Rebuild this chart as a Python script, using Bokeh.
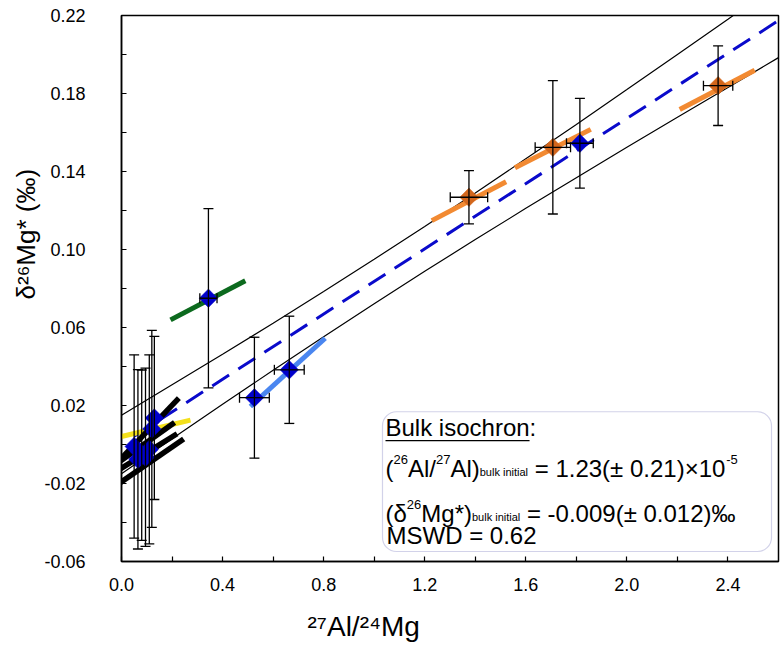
import math
from bokeh.plotting import figure
from bokeh.models import (Range1d, FixedTicker, Whisker, TeeHead, ColumnDataSource,
                          Label, BoxAnnotation, PrintfTickFormatter, Title)
from bokeh.embed import file_html
from bokeh.resources import INLINE

# ---------------- data ----------------
cluster_x = [0.050, 0.065, 0.080, 0.095, 0.110, 0.120, 0.130]
cluster_y = [-0.0010, -0.0076, -0.0055, -0.0065, -0.0025, 0.0080, 0.0136]
cluster_yerr = [0.0470, 0.0460, 0.0437, 0.0457, 0.0485, 0.0505, 0.0418]

blue_x = [0.344, 0.526, 0.664, 1.814]
blue_y = [0.0750, 0.0240, 0.0383, 0.1545]
blue_yerr = [0.0460, 0.0310, 0.0275, 0.0230]
blue_xerr = [0.034, 0.059, 0.059, 0.053]

orange_x = [1.375, 1.707, 2.361]
orange_y = [0.1268, 0.1524, 0.1840]
orange_yerr = [0.0137, 0.0342, 0.0204]
orange_xerr = [0.074, 0.070, 0.058]

# internal isochron segments (x0, y0, x1, y1)
black_x0 = [0.000, -0.010, -0.010, -0.010]
black_y0 = [-0.0070, -0.0090, -0.0130, -0.0200]
black_x1 = [0.227, 0.210, 0.220, 0.246]
black_y1 = [0.0238, 0.0113, 0.0055, 0.0028]

yellow_x0, yellow_y0, yellow_x1, yellow_y1 = [-0.020], [0.0035], [0.273], [0.0125]
green_x0, green_y0, green_x1, green_y1 = [0.194], [0.0639], [0.490], [0.0840]
lblue_x0, lblue_y0, lblue_x1, lblue_y1 = [0.510], [0.0195], [0.806], [0.0545]
orseg_x0 = [1.228, 1.557, 2.209]
orseg_y0 = [0.1148, 0.1419, 0.1718]
orseg_x1 = [1.522, 1.857, 2.506]
orseg_y1 = [0.1347, 0.1616, 0.1919]

# bulk isochron and its error envelope
fit_x = [0.05, 2.60]
fit_y = [0.0042, 0.2174]
env_x = [0.0, 0.2, 0.4, 0.6, 0.8, 1.0, 1.2, 1.4, 1.6, 1.8, 2.0, 2.2, 2.4, 2.6]
env_upper = [0.0150, 0.0306, 0.0463, 0.0622, 0.0785, 0.0950, 0.1118, 0.1290,
             0.1465, 0.1641, 0.1820, 0.2000, 0.2181, 0.2364]
env_lower = [-0.0150, 0.0029, 0.0206, 0.0381, 0.0553, 0.0722, 0.0888, 0.1051,
             0.1211, 0.1368, 0.1524, 0.1678, 0.1831, 0.1984]

x_ticks = [0.0, 0.4, 0.8, 1.2, 1.6, 2.0, 2.4]
x_tick_labels = ["0.0", "0.4", "0.8", "1.2", "1.6", "2.0", "2.4"]
x_minor = [0.2, 0.6, 1.0, 1.4, 1.8, 2.2]
y_ticks = [-0.06, -0.02, 0.02, 0.06, 0.10, 0.14, 0.18, 0.22]
y_tick_labels = ["-0.06", "-0.02", "0.02", "0.06", "0.10", "0.14", "0.18", "0.22"]
y_minor = [-0.04, 0.0, 0.04, 0.08, 0.12, 0.16, 0.20]

x_title = "²⁷Al/²⁴Mg"
y_title = "δ²⁶Mg* (‰)"

# ---------------- layout ----------------
FONT = "Liberation Sans"
W, H = 780, 656
ML, MR, MT, MB = 121, 2, 15, 94
X0, X1, Y0, Y1 = 0.0, 2.6, -0.06, 0.22
FL, FT = ML, MT                    # frame left/top in picture px
FW, FH = W - ML - MR, H - MT - MB  # frame size


def px2x(px):
    return X0 + (px - FL) * (X1 - X0) / FW


def px2y(py):
    return Y0 + (FT + FH - py) * (Y1 - Y0) / FH


p = figure(width=W, height=H, x_range=Range1d(X0, X1), y_range=Range1d(Y0, Y1),
           output_backend="svg", toolbar_location=None,
           min_border_left=ML, min_border_right=MR, min_border_top=MT, min_border_bottom=MB)
p.xgrid.visible = False
p.ygrid.visible = False
p.outline_line_color = "black"
p.outline_line_width = 1.5
p.background_fill_color = "white"
p.border_fill_color = "white"

for ax, ticks, minor, labels, fmt, standoff in (
        (p.xaxis[0], x_ticks, x_minor, x_tick_labels, "%.1f", 16),
        (p.yaxis[0], y_ticks, y_minor, y_tick_labels, "%.2f", 36)):
    ax.ticker = FixedTicker(ticks=ticks, minor_ticks=minor)
    ax.formatter = PrintfTickFormatter(format=fmt)
    ax.major_label_overrides = {t: l for t, l in zip(ticks, labels)}
    ax.major_tick_in = 5
    ax.major_tick_out = 0
    ax.minor_tick_in = 5
    ax.minor_tick_out = 0
    ax.major_tick_line_width = 1.2
    ax.minor_tick_line_width = 1.2
    ax.axis_line_width = 1.5
    ax.major_label_text_font = FONT
    ax.major_label_text_font_size = "18px"
    ax.major_label_text_color = "black"
    ax.major_label_standoff = standoff

# axis titles (off-centre, as in the reference)
p.add_layout(Title(text=x_title, align="left", offset=186, standoff=30,
                   text_font=FONT, text_font_size="28px", text_font_style="normal",
                   text_color="black"), "below")
p.add_layout(Title(text=y_title, align="left", offset=262, standoff=2,
                   text_font=FONT, text_font_size="26px", text_font_style="normal",
                   text_color="black"), "left")

# envelope + fit
p.line(env_x, env_upper, line_color="black", line_width=1.2)
p.line(env_x, env_lower, line_color="black", line_width=1.2)
p.line(fit_x, fit_y, line_color="#0A0ACB", line_width=3, line_dash="20 11")

# internal isochrons
p.segment(yellow_x0, yellow_y0, yellow_x1, yellow_y1, line_color="#F3E01C", line_width=5)
p.segment(black_x0, black_y0, black_x1, black_y1, line_color="black", line_width=5.5)
p.segment(green_x0, green_y0, green_x1, green_y1, line_color="#0C6A1E", line_width=5)
p.segment(lblue_x0, lblue_y0, lblue_x1, lblue_y1, line_color="#4A86F0", line_width=5)
p.segment(orseg_x0, orseg_y0, orseg_x1, orseg_y1, line_color="#F28A32", line_width=5)

# error bars
all_x = cluster_x + blue_x + orange_x
all_y = cluster_y + blue_y + orange_y
all_ye = cluster_yerr + blue_yerr + orange_yerr
vsrc = ColumnDataSource(dict(x=all_x,
                             lo=[y - e for y, e in zip(all_y, all_ye)],
                             hi=[y + e for y, e in zip(all_y, all_ye)]))
p.add_layout(Whisker(source=vsrc, base="x", lower="lo", upper="hi", dimension="height",
                     line_color="black", line_width=1.3, level="glyph",
                     upper_head=TeeHead(size=10, line_color="black", line_width=1.3),
                     lower_head=TeeHead(size=10, line_color="black", line_width=1.3)))
hx = blue_x + orange_x
hy = blue_y + orange_y
hxe = blue_xerr + orange_xerr
hsrc = ColumnDataSource(dict(y=hy,
                             lo=[x - e for x, e in zip(hx, hxe)],
                             hi=[x + e for x, e in zip(hx, hxe)]))
p.add_layout(Whisker(source=hsrc, base="y", lower="lo", upper="hi", dimension="width",
                     line_color="black", line_width=1.3, level="glyph",
                     upper_head=TeeHead(size=10, line_color="black", line_width=1.3),
                     lower_head=TeeHead(size=10, line_color="black", line_width=1.3)))

# points (diamonds)
p.scatter(cluster_x + blue_x, cluster_y + blue_y, marker="square", angle=math.pi / 4,
          size=13, fill_color="#0000CC", line_color="#0000CC", line_width=0.5)
p.scatter(orange_x, orange_y, marker="square", angle=math.pi / 4,
          size=13, fill_color="#D2661C", line_color="#D2661C", line_width=0.5)

# ---------------- text helpers ----------------
AW = {'(': .333, ')': .333, 'A': .667, 'l': .222, '/': .278, 'b': .556, 'u': .556, 'k': .5,
      ' ': .278, 'i': .222, 'n': .556, 't': .278, 'a': .556, '=': .584, '.': .278,
      '±': .584, '×': .584, '-': .333, '‰': 1.0, 'δ': .556, 'M': .833, 'g': .556,
      '*': .389, 'S': .667, 'W': .944, 'D': .722, 'B': .667, 's': .5, 'o': .556,
      'c': .5, 'h': .556, 'r': .333, ':': .278}


def tw(s, size):
    return sum(AW.get(c, 0.556) for c in s) * size


def runs(px, py, items):
    adv = 0.0
    for text, size, rise in items:
        lead = len(text) - len(text.lstrip(" "))
        adv += tw(" " * lead, size)
        text = text.lstrip(" ")
        p.add_layout(Label(x=px2x(px + adv), y=px2y(py - rise), text=text,
                           text_font=FONT, text_font_size=f"{size}px",
                           text_color="black", text_align="left",
                           text_baseline="alphabetic"))
        adv += tw(text, size)
    return adv


# annotation box
p.add_layout(BoxAnnotation(left=px2x(382), right=px2x(771), top=px2y(412), bottom=px2y(552),
                           border_radius=14, fill_color=None, fill_alpha=0.0,
                           line_color="#6B6BB5", line_width=1.2))
ul = runs(385, 428, [("Bulk isochron", 24, 0)])
runs(385 + ul, 428, [(":", 24, 0)])
p.segment([px2x(385)], [px2y(441)], [px2x(385 + ul)], [px2y(441)],
          line_color="black", line_width=1.2)
runs(385, 469, [("(", 24, 0), ("26", 13, 9), ("Al/", 24, 0), ("27", 13, 9), ("Al)", 24, 0),
                ("bulk initial", 11, -3), (" = 1.23(± 0.21)×10", 24, 0), ("-5", 13, 9)])
runs(385, 514, [("(δ", 24, 0), ("26", 13, 9), ("Mg*)", 24, 0), ("bulk initial", 11, -3),
                (" = -0.009(± 0.012)‰", 24, 0)])
runs(386, 536, [("MSWD = 0.62", 24, 0)])

open("out.html", "w").write(file_html(p, INLINE))
